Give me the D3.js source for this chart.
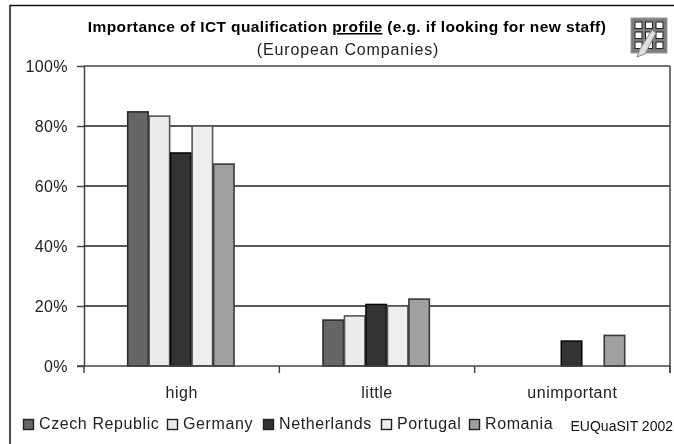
<!DOCTYPE html>
<html><head><meta charset="utf-8">
<script src="https://cdn.jsdelivr.net/npm/d3@7/dist/d3.min.js"></script>
<style>html,body{margin:0;padding:0;background:#fff}svg{display:block;filter:blur(0.35px)}text{font-family:"Liberation Sans",Arial,sans-serif}</style>
</head><body><div id="chart"></div>
<script>
const categories = ["high", "little", "unimportant"];
const countries = ["Czech Republic", "Germany", "Netherlands", "Portugal", "Romania"];
const czech = [84.7, 15.3, 0];
const germany = [83.3, 16.7, 0];
const netherlands = [71, 20.5, 8.3];
const portugal = [80, 20, 0];
const romania = [67.3, 22.3, 10.2];
const yTicks = [0, 20, 40, 60, 80, 100];
const seriesValues = [czech, germany, netherlands, portugal, romania];

const fills = ["#666666", "#ebebeb", "#333333", "#eeeeee", "#a0a0a0"];
const strokes = ["#2a2a2a", "#555555", "#0a0a0a", "#555555", "#3a3a3a"];
const legendX = [23, 167, 263, 381, 469];

const W = 674, H = 444, L = 84, R = 670, T = 66, B = 366;
const svg = d3.select("#chart").append("svg").attr("width", W).attr("height", H);

// frame
svg.append("path").attr("d", `M10 444V5.5H674`).attr("fill", "none").attr("stroke", "#111").attr("stroke-width", 1.5);

const y = d3.scaleLinear().domain([0, 100]).range([B, T]);
const x0 = d3.scaleBand().domain(categories).range([L, R]);
const x1 = d3.scaleBand().domain(countries).range([0, x0.bandwidth()]).paddingOuter(2.05).paddingInner(0);

// gridlines + y axis
const gy = svg.append("g").attr("transform", `translate(${L},0)`)
  .call(d3.axisLeft(y).tickValues(yTicks).tickSize(7).tickPadding(9).tickFormat(d => d + "%"));
gy.select(".domain").attr("stroke", "#444").attr("stroke-width", 1.5).attr("d", `M0.5 ${T}V${B}`);
gy.selectAll(".tick line").attr("stroke", "#444").attr("stroke-width", 1.5);
gy.selectAll("text").attr("font-size", 16).attr("letter-spacing", 0.4).attr("fill", "#222").attr("font-family", '"Liberation Sans",Arial,sans-serif');

svg.append("g").selectAll("line").data(yTicks.slice(1)).join("line")
  .attr("x1", L).attr("x2", R).attr("y1", d => y(d)).attr("y2", d => y(d))
  .attr("stroke", (d) => d === 100 ? "#444" : "#222").attr("stroke-width", 1.5);
svg.append("line").attr("x1", R).attr("x2", R).attr("y1", T).attr("y2", B + 7).attr("stroke", "#444").attr("stroke-width", 1.5);

// bars
const groups = svg.append("g").attr("transform", "translate(-0.8,0)").selectAll("g").data(countries).join("g");
groups.each(function (c, i) {
  d3.select(this).selectAll("rect")
    .data(seriesValues[i].map((v, k) => ({ v, cat: categories[k] })).filter(d => d.v > 0))
    .join("rect")
    .attr("x", d => x0(d.cat) + x1(c) + 0.5)
    .attr("width", x1.bandwidth() - 1)
    .attr("y", d => y(d.v))
    .attr("height", d => B - y(d.v))
    .attr("fill", fills[i]).attr("stroke", strokes[i]).attr("stroke-width", 1.6);
});

// x axis
const gx = svg.append("g").attr("transform", `translate(0,${B})`);
gx.append("line").attr("x1", L - 7).attr("x2", R).attr("stroke", "#444").attr("stroke-width", 1.5);
gx.selectAll(".t").data(d3.range(categories.length + 1)).join("line").attr("class", "t")
  .attr("x1", i => L + i * x0.step()).attr("x2", i => L + i * x0.step())
  .attr("y1", 0).attr("y2", 7).attr("stroke", "#444").attr("stroke-width", 1.5);
gx.selectAll("text").data(categories).join("text")
  .attr("x", d => x0(d) + x0.bandwidth() / 2).attr("y", 32)
  .attr("text-anchor", "middle").attr("font-size", 16).attr("letter-spacing", 0.5).attr("fill", "#222").text(d => d);

// titles
const title = svg.append("text").attr("x", 347).attr("y", 32).attr("text-anchor", "middle")
  .attr("font-size", 15.5).attr("letter-spacing", 0.4).attr("font-weight", "bold").attr("fill", "#000");
title.append("tspan").text("Importance of ICT qualification ");
title.append("tspan").attr("text-decoration", "underline").text("profile");
title.append("tspan").text(" (e.g. if looking for new staff)");
svg.append("text").attr("x", 348).attr("y", 55).attr("text-anchor", "middle")
  .attr("font-size", 16).attr("letter-spacing", 0.85).attr("fill", "#222").text("(European Companies)");

// legend
const lg = svg.append("g").selectAll("g").data(countries).join("g")
  .attr("transform", (d, i) => `translate(${legendX[i]},0)`);
lg.append("rect").attr("x", 0.5).attr("y", 419.5).attr("width", 10).attr("height", 10)
  .attr("fill", (d, i) => fills[i]).attr("stroke", "#222").attr("stroke-width", 1.4);
lg.append("text").attr("x", 16).attr("y", 429).attr("font-size", 16).attr("letter-spacing", 0.6).attr("fill", "#222").text(d => d);
svg.append("text").attr("x", 673).attr("y", 431).attr("text-anchor", "end")
  .attr("font-size", 14).attr("fill", "#111").text("EUQuaSIT 2002");

// icon
const icon = svg.append("g").attr("transform", "translate(631,18)");
icon.append("rect").attr("width", 36).attr("height", 35).attr("fill", "#7d7d7d").attr("stroke", "#999");
const cells = d3.cross([0, 1, 2], [0, 1, 2]);
icon.selectAll(".c").data(cells).join("rect").attr("class", "c")
  .attr("x", d => 4 + d[0] * 10.5).attr("y", d => 4 + d[1] * 10).attr("width", 7).attr("height", 6.5)
  .attr("fill", "#fff").attr("stroke", "#222");
icon.append("path").attr("d", "M21 12L25 15L14 36L6 39L9 31Z").attr("fill", "#ddd").attr("stroke", "#888");
</script></body></html>
